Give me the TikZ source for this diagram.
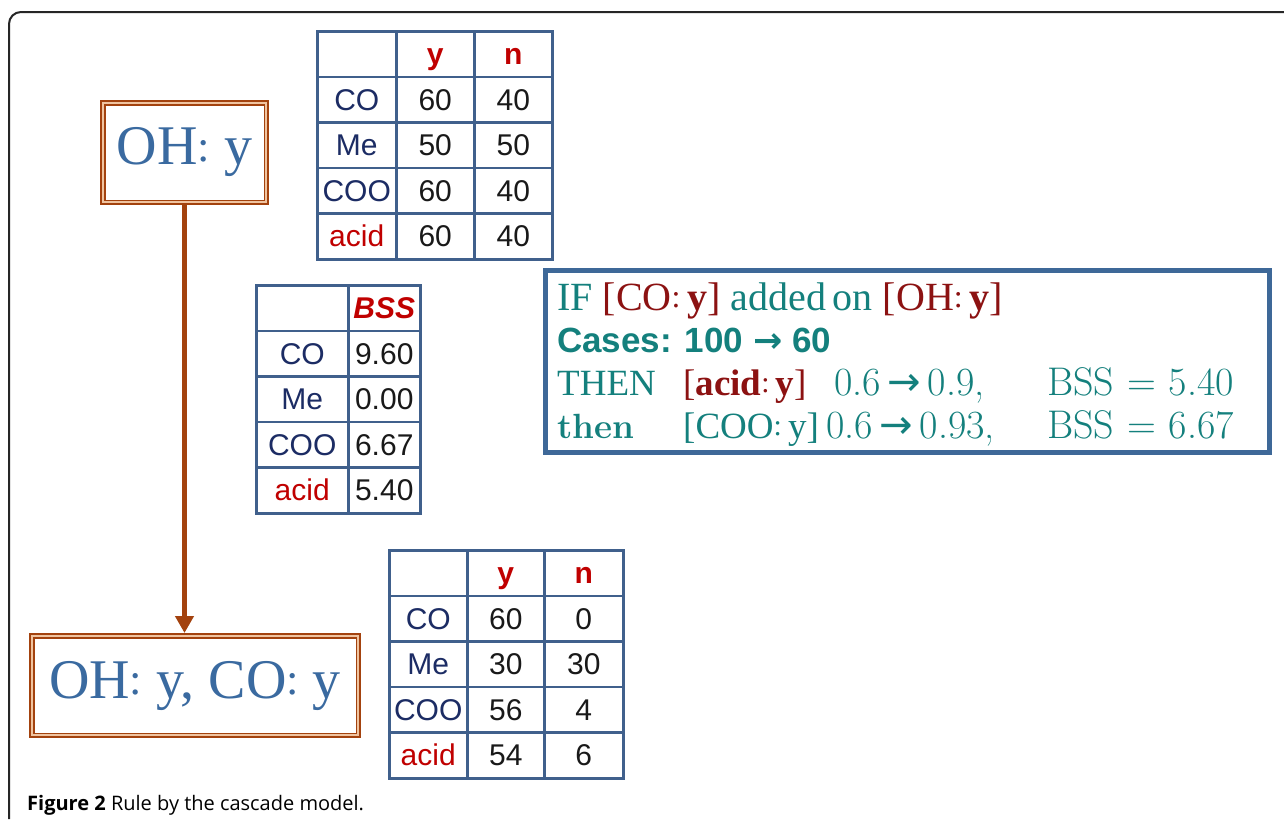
\documentclass[tikz,border=0pt]{standalone}
\usepackage{fontspec}
\newfontfamily\tnr{Liberation Serif}
\newfontfamily\arialf{Liberation Sans}
\newfontfamily\capfont{Open Sans}
\newfontfamily\dvs{DejaVu Sans}
\usetikzlibrary{matrix,arrows.meta}
\definecolor{tline}{RGB}{64,96,140}
\definecolor{navy}{RGB}{28,44,100}
\definecolor{hred}{RGB}{192,0,0}
\definecolor{numc}{RGB}{25,25,25}
\definecolor{brownc}{RGB}{163,66,14}
\definecolor{peach}{RGB}{240,196,160}
\definecolor{ohblue}{RGB}{58,106,160}
\definecolor{teal2}{RGB}{20,128,125}
\definecolor{dred}{RGB}{140,18,18}
\definecolor{boxblue}{RGB}{62,104,152}
\newcommand\kolon{\raisebox{0.06em}{\scalebox{0.8}{:}}}
\newcommand\arr{{\dvs →}}
\newcommand\eqs{\hspace{0.32em}=\hspace{0.32em}}
\tikzset{
  tbl/.style={matrix of nodes, nodes in empty cells, inner sep=0pt, outer sep=0pt,
    column sep=-2.5pt, row sep=-2.5pt,
    nodes={draw=tline, line width=2.5pt, outer sep=1.25pt, minimum height=45.6pt, inner sep=0pt,
      anchor=center, text=numc, text height=21pt, text depth=0pt,
      font=\arialf\fontsize{30}{30}\selectfont}},
  hdr/.style={text=hred, font=\arialf\bfseries\fontsize{30}{30}\selectfont},
  hdri/.style={text=hred, font=\arialf\bfseries\itshape\fontsize{30}{30}\selectfont},
  lab/.style={text=navy},
  acidc/.style={text=hred},
  ohbox/.style={draw=brownc, line width=4pt, inner sep=0pt, fill=white,
    text=ohblue, font=\tnr\fontsize{56}{56}\selectfont},
  ln/.style={anchor=base west, inner sep=0pt, text=teal2},
  serif37/.style={font=\tnr\fontsize{37}{37}\selectfont},
  cm40/.style={font=\fontsize{40}{40}\selectfont},
  arrowline/.style={draw=brownc, line width=5pt, -{Triangle[width=18pt,length=17pt]}}
}
\begin{document}
\begin{tikzpicture}[x=1pt,y=-1pt]
\useasboundingbox (0,0) rectangle (1284,819);
\fill[white] (0,0) rectangle (1284,819);
% outer frame
\draw[line width=2pt, color=black!85, rounded corners=12pt] (9,819) -- (9,12) -- (1284,12);

% tree boxes
\node[ohbox, minimum width=165pt, minimum height=101pt] (oh) at (184.5,152.5) {OH\kolon\ y};
\node[ohbox, minimum width=328pt, minimum height=101pt] (bot) at (195,685.5) {OH\kolon\ y, CO\kolon\ y};
\foreach \b in {oh,bot}{
  \draw[peach, line width=1.5pt] ([shift={(3,3)}]\b.north west) rectangle ([shift={(-3,-3)}]\b.south east);
  \draw[brownc, line width=1.5pt] ([shift={(4.75,4.75)}]\b.north west) rectangle ([shift={(-4.75,-4.75)}]\b.south east);
}
\draw[arrowline] (oh.south) -- (oh.south |- bot.north);

% table 1
\matrix (t1) [tbl, anchor=north west, column 1/.style={nodes={minimum width=79pt}},
  column 2/.style={nodes={minimum width=78pt}}, column 3/.style={nodes={minimum width=78pt}}] at (316,30) {
  & |[hdr]| y & |[hdr]| n \\
  |[lab]| CO & 60 & 40 \\
  |[lab]| Me & 50 & 50 \\
  |[lab]| COO & 60 & 40 \\
  |[acidc]| acid & 60 & 40 \\
};

% BSS table
\matrix (t2) [tbl, anchor=north west, column 1/.style={nodes={minimum width=92pt}},
  column 2/.style={nodes={minimum width=72pt}}] at (255,284) {
  & |[hdri]| BSS \\
  |[lab]| CO & 9.60 \\
  |[lab]| Me & 0.00 \\
  |[lab]| COO & 6.67 \\
  |[acidc]| acid & 5.40 \\
};

% table 3
\matrix (t3) [tbl, anchor=north west, column 1/.style={nodes={minimum width=78pt}},
  column 2/.style={nodes={minimum width=77pt}}, column 3/.style={nodes={minimum width=79pt}}] at (388,549) {
  & |[hdr]| y & |[hdr]| n \\
  |[lab]| CO & 60 & 0 \\
  |[lab]| Me & 30 & 30 \\
  |[lab]| COO & 56 & 4 \\
  |[acidc]| acid & 54 & 6 \\
};

% rule box
\node[draw=boxblue, line width=5pt, minimum width=724pt, minimum height=182pt, inner sep=0pt] (ifbox) at (907.5,361.5) {};
\node[ln, font=\tnr\fontsize{40}{40}\selectfont] (l1) at (557,310) {IF {\color{dred}[CO\kolon\,\textbf{y}]} added\hspace{-0.08em} on {\color{dred}[OH\kolon\,\textbf{y}]}};
\node[ln, font=\arialf\bfseries\fontsize{35}{35}\selectfont] (l2) at (557,352) {Cases: 100 {\dvs\bfseries →} 60};
\node[ln, serif37] (l3a) at (557,395) {THEN};
\node[ln, serif37, text=dred] (l3b) at (683,395) {[\textbf{acid}\kolon\,\textbf{y}]};
\node[ln, cm40] (l3c) at (834,395) {0.6\,\arr\,0.9,};
\node[ln, cm40] (l3d) at (1047,395) {BSS\eqs5.40};
\node[ln, font=\bfseries\fontsize{35}{35}\selectfont] (l4a) at (557,438) {then};
\node[ln, serif37] (l4b) at (683,438) {[COO\kolon\,y]};
\node[ln, cm40] (l4c) at (826,438) {0.6\,\arr\,0.93,};
\node[ln, cm40] (l4d) at (1047,438) {BSS\eqs6.67};

% caption
\node[anchor=base west, inner sep=0pt, font=\capfont\fontsize{20}{20}\selectfont] (cap) at (27,810) {\textbf{Figure 2} Rule by the cascade model.};
\end{tikzpicture}
\end{document}
